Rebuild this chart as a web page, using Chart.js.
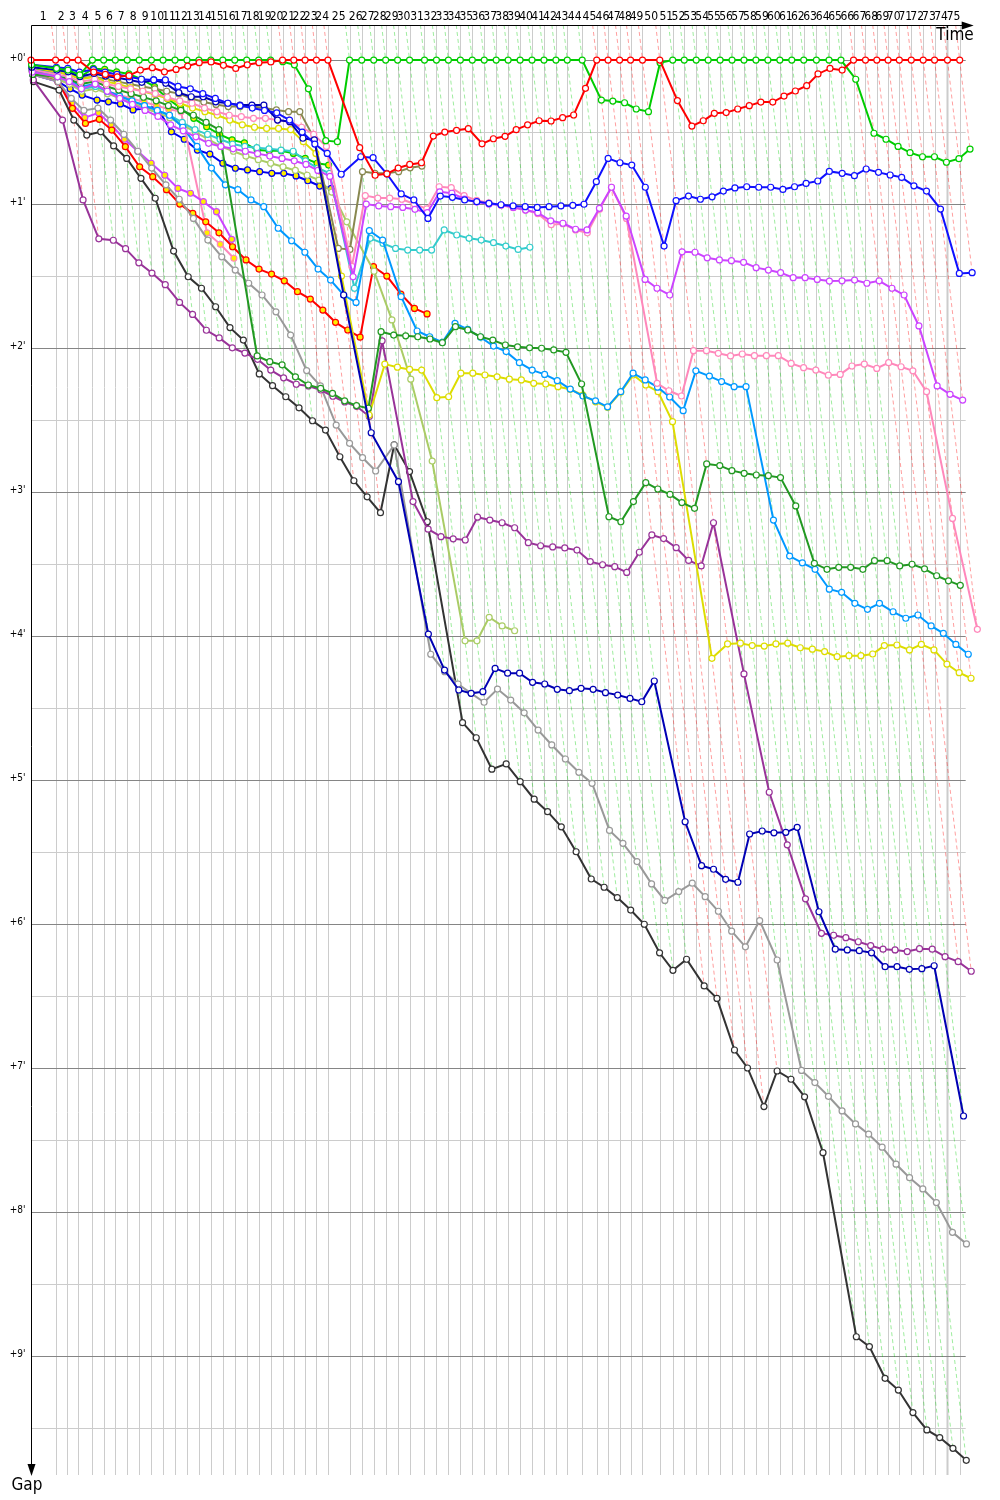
<!DOCTYPE html>
<html><head><meta charset="utf-8">
<script src="https://cdn.jsdelivr.net/npm/chart.js@4.4.1/dist/chart.umd.min.js"></script>
<style>html,body{margin:0;padding:0;background:#fff}canvas{display:block}</style>
</head><body>
<canvas id="c" width="1000" height="1500"></canvas>
<script>
// ---------- DATA ----------
// leader lap times (seconds), laps 1..75
const leaderLapTimes = [88.2,40.4,40.4,51.4,40.4,41.8,42.9,42.9,43.9,41.8,
 42.9,42.9,42.9,42.9,42.9,42.9,42.9,42.9,42.9,42.9,
 40.4,40.4,40.7,41.4,77.5,43.9,42.9,42.9,42.9,42.9,
 53.6,42.9,42.9,42.9,42.9,42.9,42.9,42.9,42.9,42.9,
 42.9,42.9,40.7,53.6,52.1,40.7,41.4,39.3,42.9,62.1,
 46.4,41.4,42.9,42.9,42.9,42.9,42.9,42.9,42.9,42.9,
 42.9,42.9,45.4,45.4,42.9,45.0,42.9,40.7,40.4,40.4,
 42.9,42.9,40.7,46.4,43.9];
const lapLabels = Array.from({length: leaderLapTimes.length}, (_, i) => String(i + 1));
const gapTickLabels = ["+0'","+1'","+2'","+3'","+4'","+5'","+6'","+7'","+8'","+9'"];

// gaps to leader (seconds) per lap, index 0 = start
const redGaps = [0,0,0,0,5,6,7,6.5,4.2,3.2,4.9,3.9,2.5,1.1,0.8,2.2,3.5,2,1.1,0.8,0,0,0,0,0,
 36.5,48,47.4,45,43.5,42.8,31.7,30,29.3,28.6,34.9,32.8,31.8,29,27,25.3,25.4,24,22.9,11.8,
 0,0,0,0,0,0,16.9,27.5,25.3,22.2,21.9,20.4,19,17.5,17.5,15,12.9,10.7,5.8,3.5,4.2,
 0,0,0,0,0,0,0,0,0,0];
const greenGaps = [2,3.5,4.2,6.2,0,0,0,0,0,0,0,0,0,0,0,0,0,0,0,0,0.7,2,12,33.6,34,
 0,0,0,0,0,0,0,0,0,0,0,0,0,0,0,0,0,0,0,0,16.7,17.1,17.8,20.4,21.5,1.1,
 0,0,0,0,0,0,0,0,0,0,0,0,0,0,0,8,30.5,33,36,38.6,40.3,40.3,42.6,41.1,37.1];
const blueGaps = [2,3,3.5,5,4,5,6,7,8,8.3,8.3,11,12,14,16,18,19,20,21,22,
 25,30,35,38.9,47.6,40.3,40.7,47.5,55.8,58.3,66,56.7,57.2,58.3,59,59.7,60.3,60.8,61.1,61.4,
 61.1,60.8,60.6,60.1,50.7,41,42.8,43.75,53,77.5,58.6,56.7,58,57,54.6,53.3,52.8,53,53,53.9,
 52.8,51.4,50.4,46.4,47.2,48.2,45.4,46.8,47.9,48.9,52.4,54.6,62.1,88.9,88.6];
const navyGaps = [3,4.2,4.9,6.9,5.6,6.7,7.4,8.3,9.3,8.3,9.7,13.6,15.3,15.3,17.4,18,18.75,18.75,18.75,25,
 25.7,32.6,33.3,97.9,155.3,175.7,239.2,254.2,262.5,263.9,263.2,253.5,255.5,255.5,259.3,260,262.2,262.8,261.8,262.2,
 263.6,264.6,266,267.4,258.75,317.4,335.7,337.2,341.4,342.6,322.5,321.25,322,321.8,319.7,354.9,370.5,370.8,371.1,372,
 377.8,377.8,378.9,378.6,377.4,440];
const magentaGaps = [5,7,9,12,10,13,16,18.5,21,23.5,27,29.5,32,34.7,36,37,38,39,40,41,
 42,43.5,46,48.5,90.3,60,60.8,61.1,61.4,62.2,63.6,54.9,55.5,57.9,59.2,60,60.4,61.4,62.5,63.6,
 67,68,70.5,70.8,61.8,53,65,91.4,95.1,97.9,79.9,80.1,82.4,83.3,83.6,84.3,86.5,87.5,88.6,90.7,
 90.7,91.4,92.1,92,91.7,93,92,95.1,97.9,110.8,135.8,139.3,141.7];
const pinkGaps = [4,6,7,9,8,10,11,12,13,14,15.5,17,18,20,21.5,23,23.6,24.3,24.3,25,
 25.7,28,31,36,86,56.5,57.5,57.5,58,60,62,52.8,53.2,56.5,58.5,59.5,60.5,61.5,62.5,64,
 68.6,68.2,70.8,72,62.2,53,66,134.7,137.8,140,121.1,121.1,122.2,123.3,122.5,123.2,123.2,123.2,126.4,128.2,
 129.2,131.3,131,127.5,126.7,128.5,126.1,127.8,129.5,138.2,191,237.2];
const darkGreenGaps = [6,7,8,10,9,11,12.5,14,15.5,17,19,21,23,26,29,123.3,125.7,127,132,135.4,
 136.8,138.9,142,144,145.1,113.2,114.6,114.9,115.3,116.25,117.8,111.1,112.5,115.3,116.7,118.75,119.5,119.9,120.1,120.8,
 121.8,135,190.3,192.4,184,176.1,178.75,181,184.4,186.8,168.3,169,171.1,172.2,172.9,173.2,174,185.8,209.7,212.2,
 211.4,211.4,212.2,208.6,208.6,210.8,210.1,212,214.9,217,218.9];
const lightBlueGaps = [4,6,8,11,10,13,15,17,19,21,23,28,36,45,52,54,58.3,61.1,70.1,75.3,
 80.1,87.1,91.7,97.9,101,71.1,75,98.6,112.9,115.3,117.6,109.7,112.2,115.5,119.2,121.5,126.1,129.2,131,133.6,
 137.1,140,142,144.5,138.2,130.5,133.3,136.3,140.4,146.1,129.5,131.7,134,136.1,136.1,191.7,206.7,209.5,212.2,220.5,
 221.8,226.4,228.9,226.4,229.9,232.6,231.25,235.8,238.9,243.5,247.6];
const yellowGaps = [3,5,6,8,7,9,10,11.5,13,14.5,16,18,20,21.5,23,25,27,28,28.5,28.5,
 29,34,38.9,90,147.9,126.7,128,128.9,129.2,140.7,140.3,130.5,130.5,131.25,132,133,133.3,134.7,135,136.1,
 137.2,139.6,142.4,144.7,138.4,131.25,135.4,138.2,150.7,249.3,243.3,243,244,244.2,243.3,243,244.9,245.5,246.5,248.6,
 248.2,248.2,247.5,244,243.75,245.8,243.5,245.8,251.7,255.3,257.6];
const purpleGaps = [8.3,25,58.3,74.5,75.1,78.6,84.5,88.75,93.6,101,106,112.6,115.8,119.9,122.1,124.7,129.2,132.4,135.1,135.8,
 137.5,140.1,142.5,144.3,148.5,117,184,195.5,198.6,199.5,200,190.5,191.7,192.8,194.9,201.1,202.4,202.9,203.3,204.2,
 209,210.3,211.1,213.5,205.1,197.9,199.4,203.2,208.5,210.8,192.8,255.8,305.1,327,349.5,363.9,364.7,365.7,367.4,369,
 370.5,370.8,371.5,370.3,370.5,373.6,375.7,379.7];
const grayGaps = [6,9,16,21,20,25,31,38,45,52,58,66,75,82,87.5,93,97.9,104.9,114.6,129.4,
 135.8,152.1,159.7,165.7,171.25,160.4,247.6,254.9,260,263.9,267.6,262.1,266.7,272,279.2,285.4,291.25,296.8,301.4,321,
 326.4,334,343.3,350.2,346.5,343,348.6,354.7,363,369.5,358.6,375,421,426.1,431.8,437.9,443.3,447.6,453,460.1,
 465.7,470.4,476.1,488.5,493.3];
const blackGaps = [9,12.5,25,31.25,29.9,35.8,41,49.3,57.6,79.6,90.3,95.1,102.8,111.5,116.7,130.8,135.7,140.3,144.9,150.3,
 154.2,165.3,175.3,182,188.6,160.3,171.5,192.4,276.1,282.4,295.5,293.3,300.7,308,313.2,319.5,329.9,341.25,344.7,349,
 354.2,360.1,372,379.3,374.7,385.8,391,412.5,420,436.1,421.25,424.7,432,455.3,532,536.1,549.3,554.2,563.6,570.8,
 574,578.5,583.5];
const oliveGaps = [5,5,6,7.5,7,8,9,10,11,12,13,14,16,17.5,18.5,19.4,19.4,19.4,20,20.8,21.5,21.5,32.6,78.5,78.9,
 46.5,47.2,47.2,46.5,44.9,44.2];
const cyanGaps = [4,7,9,12,11,13,15,17,19,21,23,26,29,31,33,35,36,36.5,37,37.5,
 38,42,45,47.2,95.1,74.3,76.4,78.5,79.2,79.2,79.2,70.8,72.9,74.3,75,76.1,77.5,78.9,78];
const lightGreenGaps = [5,8,10,13,12,14,16,18,20,22,24,27,30,33,36,38,40,41.5,43,44.5,
 46,48,50,55,67.4,88,108.3,133,167.1,242,242,232.2,235.8,237.8];
const redYellowGaps = [4,9,20.1,26.4,24.7,29.2,36.1,44.5,48.6,54,60,63.9,67.4,72,77.8,83.3,87.1,89.2,92,96.5,
 99.6,104.2,109.3,112.5,115.5,86.1,90,97.5,103.5,105.8];
const magentaYellowGaps = [6,9,18,24,22,27,33,38,43,48,53.5,55.5,59,63.2,74.7];
const pinkYellowGaps = [5,8,10,12,11,13,14.5,16,17.5,19,20.5,21.5,72,76.8,82.6];
const greenYellowGaps = [4,4.5,5,7,3.5,3.9,4.9,5.8,8,11.1,16,20,24.3,27.8,31,33.3,34.5,37.5,37.8,37.8,38.9,41,43,43.75];
const blueYellowGaps = [6,9,12,14.6,16.7,17.4,18.3,20.8,20.1,19.5,29.9,33,37.5,39.2,43,45.1,45.8,46.5,47.2,47.2,48.3,50.3,52.5,53.5];

// ---------- STYLE / CONFIG ----------
const drivers = [
 {gaps: redGaps, color:'#ff0000', fill:'#ffffff'},
 {gaps: greenGaps, color:'#00cc00', fill:'#ffffff'},
 {gaps: blueGaps, color:'#1010ff', fill:'#ffffff'},
 {gaps: navyGaps, color:'#0000b4', fill:'#ffffff'},
 {gaps: magentaGaps, color:'#cc44ff', fill:'#ffffff'},
 {gaps: pinkGaps, color:'#ff88bb', fill:'#ffffff'},
 {gaps: darkGreenGaps, color:'#229922', fill:'#ffffff'},
 {gaps: lightBlueGaps, color:'#0099ff', fill:'#ffffff'},
 {gaps: yellowGaps, color:'#dddd00', fill:'#ffffff'},
 {gaps: purpleGaps, color:'#993399', fill:'#ffffff'},
 {gaps: grayGaps, color:'#999999', fill:'#ffffff'},
 {gaps: blackGaps, color:'#333333', fill:'#ffffff'},
 {gaps: oliveGaps, color:'#888850', fill:'#ffffff'},
 {gaps: cyanGaps, color:'#33cccc', fill:'#ffffff'},
 {gaps: lightGreenGaps, color:'#aacc66', fill:'#ffffff'},
 {gaps: redYellowGaps, color:'#ff0000', fill:'#ffee00'},
 {gaps: magentaYellowGaps, color:'#cc44ff', fill:'#ffee00'},
 {gaps: pinkYellowGaps, color:'#ff88bb', fill:'#ffee00'},
 {gaps: greenYellowGaps, color:'#00cc00', fill:'#ffee00'},
 {gaps: blueYellowGaps, color:'#0000ee', fill:'#ffee00'}
];

const cumT = [0];
leaderLapTimes.forEach((t, i) => cumT.push(cumT[i] + t));
const Y_MIN = -14.6, Y_MAX = 589.6, X_MAX = 3460;
const FONT = "Tahoma, 'DejaVu Sans Condensed', 'DejaVu Sans', sans-serif";

function toPoints(g){ return g.map((v, k) => ({x: cumT[k] + v, y: v})); }
function rgba(hex, a){
  const n = parseInt(hex.slice(1), 16);
  return `rgba(${(n>>16)&255},${(n>>8)&255},${n&255},${a})`;
}

const gridPlugin = {
  id: 'gapGrid',
  beforeDraw(chart){
    const c = chart.ctx; c.save(); c.fillStyle = '#fff'; c.fillRect(0,0,chart.width,chart.height); c.restore();
  },
  beforeDatasetsDraw(chart){
    const {ctx, scales:{x, y}} = chart;
    const left = x.getPixelForValue(0);
    const top = y.getPixelForValue(Y_MIN), bottom = y.getPixelForValue(Y_MAX);
    const lastT = cumT[cumT.length - 1];
    const right = x.getPixelForValue(lastT) + 6;
    ctx.save();
    // vertical lap lines
    ctx.strokeStyle = '#cccccc';
    for (let k = 1; k < cumT.length; k++){
      const px = Math.round(x.getPixelForValue(cumT[k])) + 0.5;
      ctx.lineWidth = (k === cumT.length - 2) ? 2 : 1;
      ctx.beginPath(); ctx.moveTo(px, top); ctx.lineTo(px, bottom); ctx.stroke();
    }
    // horizontal lines
    ctx.lineWidth = 1;
    for (let s = 0; s <= Y_MAX; s += 30){
      const py = Math.round(y.getPixelForValue(s)) + 0.5;
      ctx.strokeStyle = (s % 60 === 0) ? '#858585' : '#cccccc';
      ctx.beginPath(); ctx.moveTo(left, py); ctx.lineTo(right, py); ctx.stroke();
    }
    // lap dashed lines (constant time), coloured by leader of the lap
    ctx.setLineDash([4, 3]);
    for (let k = 1; k < cumT.length; k++){
      let leader = null, gmax = 0;
      drivers.forEach(d => {
        if (d.gaps.length > k){
          if (!leader || d.gaps[k] < leader.gaps[k]) leader = d;
          gmax = Math.max(gmax, d.gaps[k]);
        }
      });
      if (!leader) continue;
      ctx.strokeStyle = rgba(leader.color, 0.38);
      ctx.beginPath();
      ctx.moveTo(x.getPixelForValue(cumT[k] + Y_MIN), top);
      ctx.lineTo(x.getPixelForValue(cumT[k] + gmax), y.getPixelForValue(gmax));
      ctx.stroke();
    }
    ctx.setLineDash([]);
    ctx.restore();
  },
  afterDraw(chart){
    const {ctx, scales:{x, y}} = chart;
    const left = Math.round(x.getPixelForValue(0)) + 0.5;
    const top = Math.round(y.getPixelForValue(Y_MIN)) + 0.5;
    const bottom = y.getPixelForValue(Y_MAX);
    const lastT = cumT[cumT.length - 1];
    const arrowX = x.getPixelForValue(lastT) + 14;
    ctx.save();
    ctx.strokeStyle = '#000'; ctx.fillStyle = '#000'; ctx.lineWidth = 1;
    // x axis with arrow
    ctx.beginPath(); ctx.moveTo(left, top); ctx.lineTo(arrowX - 10, top); ctx.stroke();
    ctx.beginPath(); ctx.moveTo(arrowX, top); ctx.lineTo(arrowX - 12, top - 4); ctx.lineTo(arrowX - 12, top + 4); ctx.closePath(); ctx.fill();
    // y axis with arrow
    ctx.beginPath(); ctx.moveTo(left, top); ctx.lineTo(left, bottom - 8); ctx.stroke();
    ctx.beginPath(); ctx.moveTo(left, bottom + 1); ctx.lineTo(left - 4, bottom - 11); ctx.lineTo(left + 4, bottom - 11); ctx.closePath(); ctx.fill();
    // lap labels
    ctx.font = '12px ' + FONT; ctx.textAlign = 'center'; ctx.textBaseline = 'middle';
    lapLabels.forEach((lab, i) => {
      const mid = (x.getPixelForValue(cumT[i]) + x.getPixelForValue(cumT[i+1])) / 2;
      ctx.fillText(lab, mid, 17);
    });
    // gap labels
    ctx.font = '10px ' + FONT; ctx.textAlign = 'right';
    gapTickLabels.forEach((lab, i) => {
      ctx.fillText(lab, left - 6, y.getPixelForValue(i * 60) - 2);
    });
    // axis titles
    ctx.font = '17px ' + FONT;
    ctx.textAlign = 'right'; ctx.textBaseline = 'top';
    ctx.fillText('Time', arrowX, top + 2);
    ctx.textAlign = 'left';
    ctx.fillText('Gap', left - 20, bottom + 2);
    ctx.restore();
  }
};

new Chart(document.getElementById('c'), {
  type: 'line',
  data: {
    datasets: drivers.map(d => ({
      data: toPoints(d.gaps),
      borderColor: d.color,
      backgroundColor: d.fill,
      pointBackgroundColor: d.fill,
      pointBorderColor: d.color,
      pointRadius: 3,
      pointBorderWidth: 1.2,
      borderWidth: 2,
      tension: 0,
      clip: false
    }))
  },
  options: {
    responsive: false,
    animation: false,
    devicePixelRatio: 1,
    parsing: false,
    layout: {padding: {left: 31, top: 25, right: 0, bottom: 25}},
    plugins: {legend: {display: false}, tooltip: {enabled: false}},
    scales: {
      x: {type: 'linear', min: 0, max: X_MAX, display: false},
      y: {type: 'linear', min: Y_MIN, max: Y_MAX, reverse: true, display: false}
    }
  },
  plugins: [gridPlugin]
});
</script>
</body></html>
